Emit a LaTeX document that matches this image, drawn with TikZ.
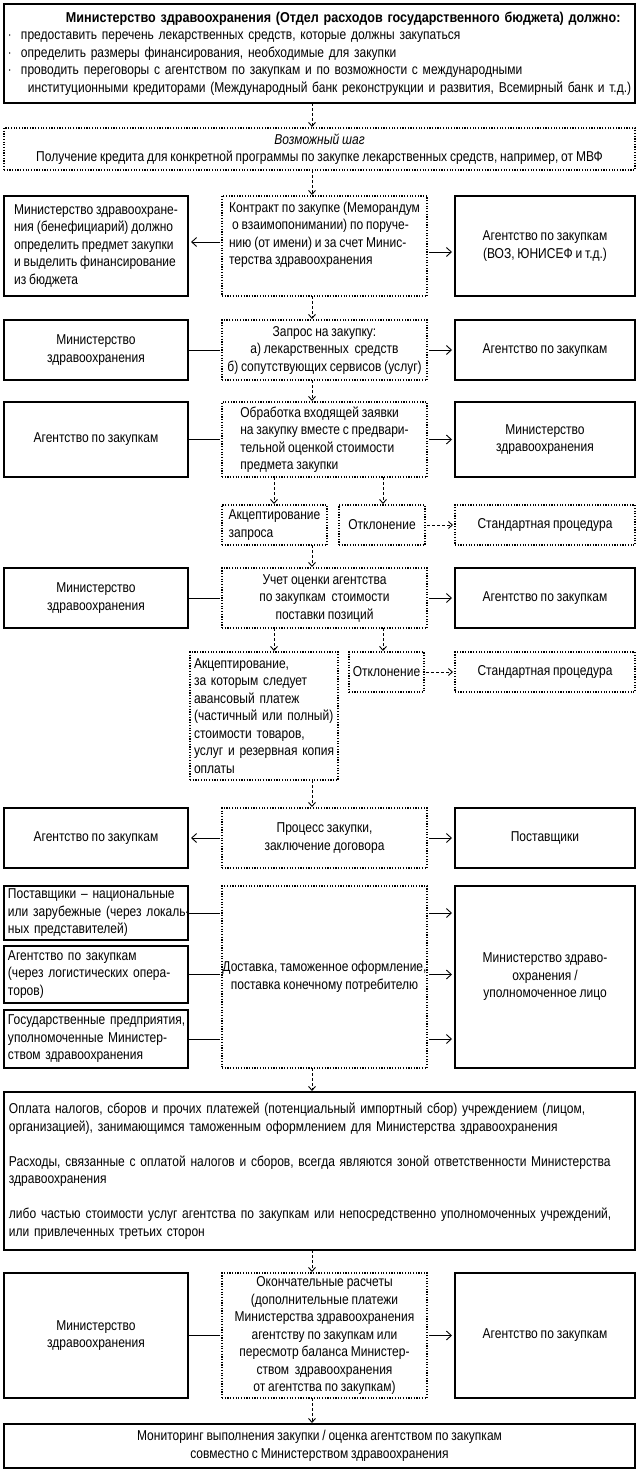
\documentclass[tikz,border=0pt]{standalone}
\usepackage{fontspec}
\setmainfont{Liberation Sans}[FakeStretch=0.84,WordSpace=0.85,BoldFeatures={FakeStretch=0.88}]
\usetikzlibrary{arrows.meta}
\newcommand\bul{\makebox[12bp][l]{\raisebox{2bp}{\fontsize{6bp}{6bp}\selectfont•}}}
\begin{document}
\begin{tikzpicture}[x=1bp,y=-1bp,
  txt/.style={font=\fontsize{14.3bp}{17.5bp}\selectfont},
  solidbox/.style={txt,draw,line width=1.6bp,inner sep=0pt,outer sep=0pt,align=center},
  dotbox/.style={txt,draw,line width=1.2bp,dash pattern=on 1.2bp off 1.5bp,inner sep=0pt,outer sep=0pt,align=center},
  flow/.style={line width=0.9bp,dash pattern=on 3bp off 2bp,-{Straight Barb[length=4bp,width=7bp]},shorten >=1bp},
  link/.style={line width=0.9bp,shorten >=2bp},
  arr/.style={line width=0.9bp,-{Straight Barb[length=5bp,width=9bp]},shorten <=2bp,shorten >=3bp},
]
\useasboundingbox (0,0) rectangle (640,1474);
\fill[white] (0,0) rectangle (640,1474);
\coordinate (ax) at (312,0);
\coordinate (ax1) at (274,0);
\coordinate (ax2) at (383,0);

% top
\node[solidbox,minimum width=631bp,minimum height=99bp,text width=621bp,align=left] (top) at (319.5,53.5)
 {\mbox{\hspace*{57bp}\textbf{Министерство здравоохранения (Отдел расходов государственного бюджета) должно:}}\\
  \mbox{\bul предоставить перечень лекарственных средств, которые должны закупаться}\\
  \mbox{\bul определить размеры финансирования, необходимые для закупки}\\
  \mbox{\bul проводить переговоры с агентством по закупкам и по возможности с международными}\\
  \mbox{\hspace*{19bp}институционными кредиторами (Международный банк реконструкции и развития, Всемирный банк и т.д.)}};

\node[dotbox,minimum width=631bp,minimum height=42bp] (poss) at (319.5,149)
 {\textit{Возможный шаг}\\Получение кредита для конкретной программы по закупке лекарственных средств, например, от МВФ};

% row 3
\node[solidbox,minimum width=184bp,minimum height=100bp,align=left] (l3) at (96,246)
 {Министерство здравоохране-\\ния (бенефициарий) должно\\определить предмет закупки\\и выделить финансирование\\из бюджета};
\node[dotbox,minimum width=205bp,minimum height=100bp,align=left] (c3) at (324.5,246)
 {Контракт по закупке (Меморандум\\\hspace*{3bp}о взаимопонимании) по поруче-\\нию (от имени) и за счет Минис-\\терства здравоохранения\\[8bp]};
\node[solidbox,minimum width=180bp,minimum height=100bp] (r3) at (545,246)
 {Агентство по закупкам\\(ВОЗ, ЮНИСЕФ и т.д.)};

% row 4
\node[solidbox,minimum width=184bp,minimum height=60bp] (l4) at (96,350) {Министерство\\здравоохранения};
\node[dotbox,minimum width=205bp,minimum height=60bp] (c4) at (324.5,350)
 {Запрос на закупку:\\а) лекарственных\ \ средств\\б) сопутствующих сервисов (услуг)};
\node[solidbox,minimum width=180bp,minimum height=60bp] (r4) at (545,350) {Агентство по закупкам};

% row 5
\node[solidbox,minimum width=184bp,minimum height=75bp] (l5) at (96,439.5) {Агентство по закупкам};
\node[dotbox,minimum width=205bp,minimum height=75bp,align=left] (c5) at (324.5,439.5)
 {Обработка входящей заявки\\на закупку вместе с предвари-\\тельной оценкой стоимости\\предмета закупки};
\node[solidbox,minimum width=180bp,minimum height=75bp] (r5) at (545,439.5) {Министерство\\здравоохранения};

% row 6
\node[dotbox,minimum width=105bp,minimum height=40bp,align=left] (acc6) at (274.5,525) {Акцептирование\\запроса};
\node[dotbox,minimum width=86bp,minimum height=40bp] (rej6) at (382,525) {Отклонение};
\node[dotbox,minimum width=180bp,minimum height=40bp] (std6) at (545,525) {Стандартная процедура};

% row 7
\node[solidbox,minimum width=184bp,minimum height=60bp] (l7) at (96,598) {Министерство\\здравоохранения};
\node[dotbox,minimum width=205bp,minimum height=60bp] (c7) at (324.5,598)
 {Учет оценки агентства\\по закупкам\ \ стоимости\\поставки позиций};
\node[solidbox,minimum width=180bp,minimum height=60bp] (r7) at (545,598) {Агентство по закупкам};

% row 8
\node[dotbox,minimum width=148bp,minimum height=128bp,text width=140bp,align=left] (acc8) at (264,716)
 {\mbox{Акцептирование,}\\\mbox{за которым следует}\\\mbox{авансовый платеж}\\\mbox{(частичный или полный)}\\\mbox{стоимости товаров,}\\\mbox{услуг и резервная копия}\\\mbox{оплаты}};
\node[dotbox,minimum width=75bp,minimum height=40bp] (rej8) at (386.5,672) {Отклонение};
\node[dotbox,minimum width=180bp,minimum height=40bp] (std8) at (545,672) {Стандартная процедура};

% row 9
\node[solidbox,minimum width=184bp,minimum height=60bp] (l9) at (96,838) {Агентство по закупкам};
\node[dotbox,minimum width=205bp,minimum height=60bp] (c9) at (324.5,838) {Процесс закупки,\\заключение договора};
\node[solidbox,minimum width=180bp,minimum height=60bp] (r9) at (545,838) {Поставщики};

% row 10
\node[solidbox,minimum width=184bp,minimum height=54bp,text width=176bp,align=left] (l10a) at (96,913)
 {\mbox{Поставщики – национальные}\\\mbox{или зарубежные (через локаль-}\\\mbox{ных представителей)}};
\node[solidbox,minimum width=184bp,minimum height=57bp,text width=176bp,align=left] (l10b) at (96,974.5)
 {\mbox{Агентство по закупкам}\\\mbox{(через логистических опера-}\\\mbox{торов)}};
\node[solidbox,minimum width=184bp,minimum height=58bp,text width=176bp,align=left] (l10c) at (96,1039)
 {\mbox{Государственные предприятия,}\\\mbox{уполномоченные Министер-}\\\mbox{ством здравоохранения}};
\node[dotbox,minimum width=205bp,minimum height=182bp] (c10) at (324.5,977)
 {Доставка, таможенное оформление,\\поставка конечному потребителю};
\node[solidbox,minimum width=180bp,minimum height=182bp] (r10) at (545,977)
 {Министерство здраво-\\охранения /\\уполномоченное лицо};

% payment
\node[solidbox,minimum width=631bp,minimum height=158bp,text width=621bp,align=left] (pay) at (319.5,1171)
 {\mbox{Оплата налогов, сборов и прочих платежей (потенциальный импортный сбор) учреждением (лицом,}\\
  \mbox{организацией), занимающимся таможенным оформлением для Министерства здравоохранения}\\[17.5bp]
  \mbox{Расходы, связанные с оплатой налогов и сборов, всегда являются зоной ответственности Министерства}\\
  \mbox{здравоохранения}\\[17.5bp]
  \mbox{либо частью стоимости услуг агентства по закупкам или непосредственно уполномоченных учреждений,}\\
  \mbox{или привлеченных третьих сторон}};

% row 12
\node[solidbox,minimum width=184bp,minimum height=125bp] (l12) at (96,1335.5) {Министерство\\здравоохранения};
\node[dotbox,minimum width=205bp,minimum height=125bp] (c12) at (324.5,1335.5)
 {Окончательные расчеты\\(дополнительные платежи\\Министерства здравоохранения\\агентству по закупкам или\\пересмотр баланса Министер-\\ством\ \ здравоохранения\\от агентства по закупкам)};
\node[solidbox,minimum width=180bp,minimum height=125bp] (r12) at (545,1335.5) {Агентство по закупкам};

% final
\node[solidbox,minimum width=631bp,minimum height=44bp] (fin) at (319.5,1446)
 {Мониторинг выполнения закупки / оценка агентством по закупкам\\совместно с Министерством здравоохранения};

% vertical flow
\draw[flow] (top.south -| ax) -- (poss.north -| ax);
\draw[flow] (poss.south -| ax) -- (c3.north -| ax);
\draw[flow] (c3.south -| ax) -- (c4.north -| ax);
\draw[flow] (c4.south -| ax) -- (c5.north -| ax);
\draw[flow] (c5.south -| ax1) -- (acc6.north -| ax1);
\draw[flow] (c5.south -| ax2) -- (rej6.north -| ax2);
\draw[flow] (acc6.south -| ax) -- (c7.north -| ax);
\draw[flow] (c7.south -| ax1) -- (acc8.north -| ax1);
\draw[flow] (c7.south -| ax2) -- (rej8.north -| ax2);
\draw[flow] (acc8.south -| ax) -- (c9.north -| ax);
\draw[flow] (c10.south -| ax) -- (pay.north -| ax);
\draw[flow] (pay.south -| ax) -- (c12.north -| ax);
\draw[flow] (c12.south -| ax) -- (fin.north -| ax);
\draw[flow,shorten <=2bp,shorten >=2bp] (rej6.east) -- (std6.west);
\draw[flow,shorten <=2bp,shorten >=2bp] (rej8.east) -- (std8.west);

% horizontal
\draw[arr] ([yshift=4bp]c3.west) -- ([yshift=4bp]l3.east);
\draw[arr] ([yshift=-6bp]c3.east) -- ([yshift=-6bp]r3.west);
\draw[link] (l4.east) -- (c4.west);
\draw[arr] (c4.east) -- (r4.west);
\draw[link] (l5.east) -- (c5.west);
\draw[arr] (c5.east) -- (r5.west);
\draw[link] (l7.east) -- (c7.west);
\draw[arr] (c7.east) -- (r7.west);
\draw[arr] (c9.west) -- (l9.east);
\draw[arr] (c9.east) -- (r9.west);
\draw[link] (l10a.east) -- (c10.west |- l10a.east);
\draw[link] (l10b.east) -- (c10.west |- l10b.east);
\draw[link] (l10c.east) -- (c10.west |- l10c.east);
\draw[arr] (c10.east |- l10a.east) -- (r10.west |- l10a.east);
\draw[arr] (c10.east |- l10b.east) -- (r10.west |- l10b.east);
\draw[arr] (c10.east |- l10c.east) -- (r10.west |- l10c.east);
\draw[link] (l12.east) -- (c12.west);
\draw[arr] (c12.east) -- (r12.west);
\end{tikzpicture}
\end{document}
